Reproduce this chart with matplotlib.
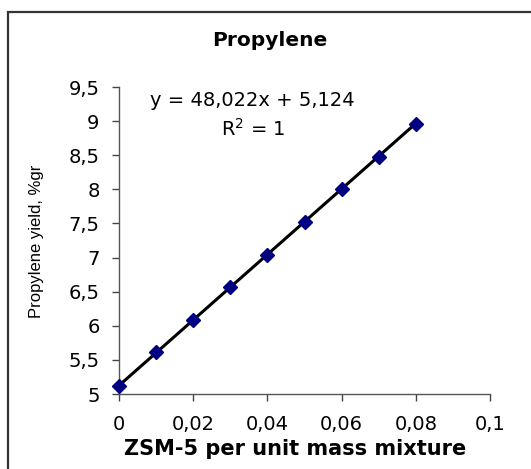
import matplotlib
matplotlib.use("Agg")
import matplotlib.pyplot as plt
from matplotlib.patches import Rectangle
from matplotlib.ticker import FuncFormatter

plt.rcParams['font.family'] = ['DejaVu Sans']

# data
zsm = [0, 0.01, 0.02, 0.03, 0.04, 0.05, 0.06, 0.07, 0.08]
yield_pct = [5.12, 5.61, 6.09, 6.57, 7.04, 7.52, 8.00, 8.47, 8.96]
slope = 48.022
intercept = 5.124
x_ticks = [0, 0.02, 0.04, 0.06, 0.08, 0.1]
y_ticks = [5, 5.5, 6, 6.5, 7, 7.5, 8, 8.5, 9, 9.5]

W, H = 531, 469
fig = plt.figure(figsize=(W / 100, H / 100), dpi=100)

# outer chart frame (cut at right/bottom like the original)
fig.patches.append(Rectangle((8 / W, -0.05), 1.2, 1 - 12 / H + 0.05,
                             transform=fig.transFigure, fill=False,
                             edgecolor='#333333', linewidth=1.6))

ax = fig.add_axes([119 / W, 1 - 394 / H, 371 / W, 307 / H])

# trend line
tx = [zsm[0], zsm[-1]]
ty = [slope * v + intercept for v in tx]
ax.plot(tx, ty, color='black', linewidth=2.2, zorder=2)
ax.plot(zsm, yield_pct, linestyle='none', marker='D', markersize=7.5,
        color='#000080', zorder=3, clip_on=False)

ax.set_xlim(0, 0.1)
ax.set_ylim(5, 9.5)
ax.set_xticks(x_ticks)
ax.set_yticks(y_ticks)
comma = FuncFormatter(lambda v, p: ('%g' % v).replace('.', ','))
ax.xaxis.set_major_formatter(comma)
ax.yaxis.set_major_formatter(comma)
ax.tick_params(direction='out', length=5, width=1, color='#444444',
               labelsize=14, pad=9)
ax.tick_params(axis='x', pad=10)

for s in ['top', 'right']:
    ax.spines[s].set_visible(False)
for s in ['left', 'bottom']:
    ax.spines[s].set_color('#555555')
    ax.spines[s].set_linewidth(1)

fig.text(252 / W, 1 - 100 / H, 'y = 48,022x + 5,124', fontsize=14,
         ha='center', va='center')
fig.text(253 / W, 1 - 129 / H, 'R$^2$ = 1', fontsize=14, ha='center', va='center')

fig.text(270 / W, 1 - 41 / H, 'Propylene', fontsize=14.5, fontweight='bold',
         ha='center', va='center')
fig.text(295 / W, 1 - 449 / H, 'ZSM-5 per unit mass mixture', fontsize=15,
         fontweight='bold', ha='center', va='center')
fig.text(37 / W, 1 - 241 / H, 'Propylene yield, %gr', fontsize=12,
         family='Liberation Sans', rotation=90, ha='center', va='center')

fig.savefig('out.png', dpi=100)
